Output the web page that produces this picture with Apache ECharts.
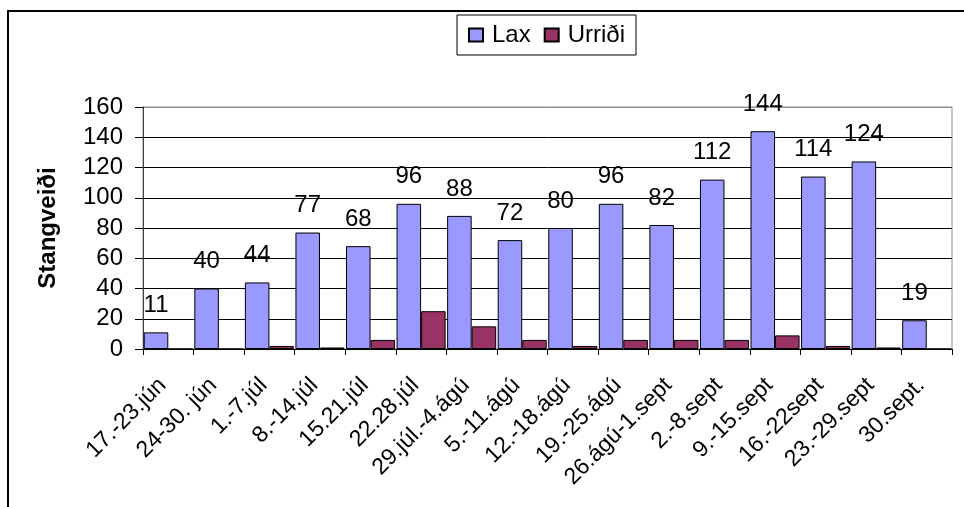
<!DOCTYPE html>
<html>
<head>
<meta charset="utf-8">
<script src="https://cdn.jsdelivr.net/npm/echarts@6/dist/echarts.min.js"></script>
<style>
  html, body { margin: 0; padding: 0; background: #fff; }
  #chart { width: 964px; height: 507px; }
</style>
</head>
<body>
<div id="chart"></div>
<script>
// ---- data ----
const categories = ['17.-23.jún', '24-30. jún', '1.-7.júl', '8.-14.júl', '15.21.júl', '22.28.júl',
  '29.júl.-4.ágú', '5.-11.ágú', '12.-18.ágú', '19.-25.ágú', '26.ágú-1.sept', '2.-8.sept',
  '9.-15.sept', '16.-22sept', '23.-29.sept', '30.sept.'];
const laxValues = [11, 40, 44, 77, 68, 96, 88, 72, 80, 96, 82, 112, 144, 114, 124, 19];
const urridiValues = [0, 0, 2, 1, 6, 25, 15, 6, 2, 6, 6, 6, 9, 2, 1, 0];
const seriesNames = ['Lax', 'Urriði'];
const yAxisTitle = 'Stangveiði';
const yMin = 0, yMax = 160, yStep = 20;

// ---- chart ----
const FONT = "'Liberation Sans', Arial, sans-serif";
const chart = echarts.init(document.getElementById('chart'), null, { renderer: 'canvas' });
const gridColors = [];
for (let v = yMin; v <= yMax; v += yStep) gridColors.push(v === yMax ? '#8c8c8c' : '#000');

chart.setOption({
  backgroundColor: '#fff',
  animation: false,
  textStyle: { fontFamily: FONT },
  graphic: [{
    type: 'rect',
    shape: { x: 8, y: 11, width: 1000, height: 600 },
    style: { fill: 'none', stroke: '#000', lineWidth: 2 },
    silent: true
  }],
  legend: {
    left: 457, top: 15,
    padding: [8, 11, 8, 11],
    itemGap: 13,
    itemWidth: 14, itemHeight: 13,
    icon: 'rect',
    borderColor: '#000', borderWidth: 1,
    textStyle: { fontSize: 24, color: '#000', fontFamily: FONT, padding: [0, 0, 0, 4] },
    data: seriesNames
  },
  grid: {
    left: 143, right: 12, top: 107, bottom: 158,
    show: true, borderColor: '#8c8c8c', borderWidth: 1, backgroundColor: 'transparent'
  },
  xAxis: {
    type: 'category',
    data: categories,
    axisLine: { lineStyle: { color: '#000', width: 1 } },
    axisTick: { show: true, length: 6, alignWithLabel: false, lineStyle: { color: '#000' } },
    axisLabel: { interval: 0, rotate: 45, fontSize: 23, color: '#000', fontFamily: FONT,
                 margin: 27, padding: [0, 8, 0, 0] }
  },
  yAxis: {
    type: 'value',
    min: yMin, max: yMax, interval: yStep,
    name: yAxisTitle,
    nameLocation: 'middle',
    nameRotate: 90,
    nameGap: 83,
    nameTextStyle: { fontSize: 24, fontWeight: 'bold', color: '#000', fontFamily: FONT },
    axisLine: { show: true, lineStyle: { color: '#404040', width: 1 } },
    axisTick: { show: true, length: 8, lineStyle: { color: '#000' } },
    axisLabel: { fontSize: 24, color: '#000', fontFamily: FONT, margin: 20 },
    splitLine: { show: true, lineStyle: { color: gridColors, width: 1 } }
  },
  series: [
    {
      name: seriesNames[0],
      type: 'bar',
      data: laxValues,
      barGap: '0%',
      barCategoryGap: '3%',
      itemStyle: { color: '#9999FF', borderColor: '#000', borderWidth: 1 },
      label: { show: true, position: 'top', distance: 15, fontSize: 24, color: '#000', fontFamily: FONT }
    },
    {
      name: seriesNames[1],
      type: 'bar',
      data: urridiValues,
      barGap: '0%',
      barCategoryGap: '3%',
      itemStyle: { color: '#993366', borderColor: '#000', borderWidth: 1 }
    }
  ]
});
</script>
</body>
</html>
